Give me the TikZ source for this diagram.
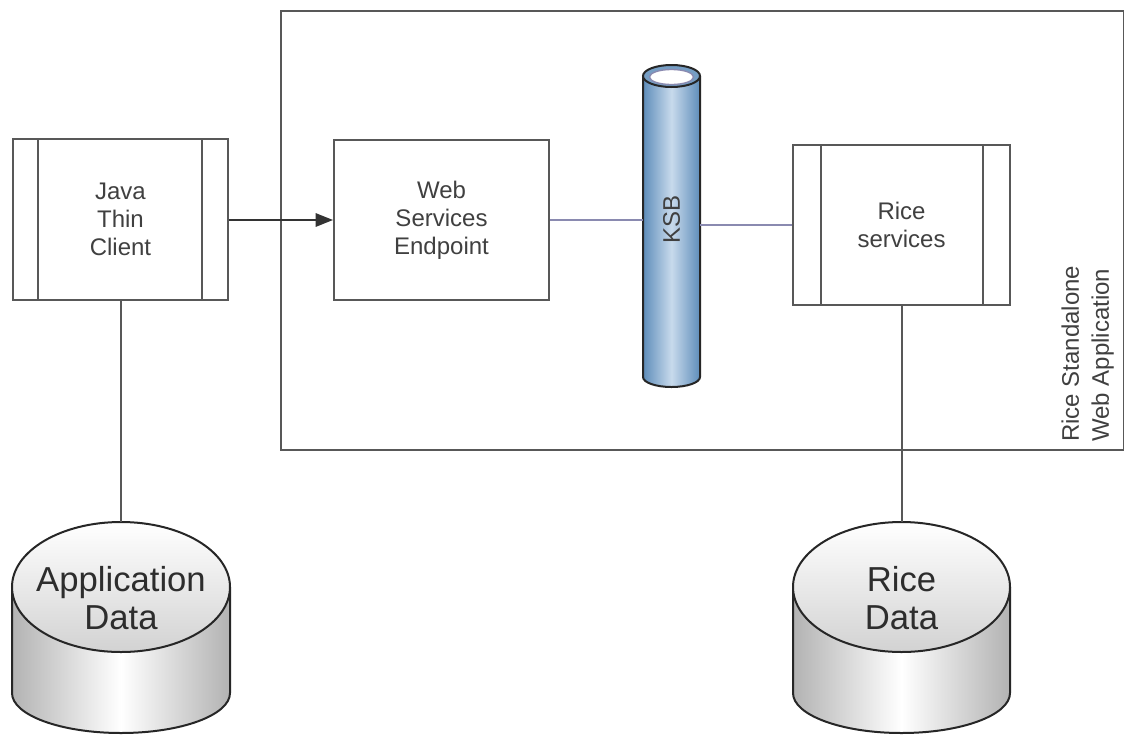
\documentclass[tikz,border=0pt]{standalone}
\usepackage{fontspec}
\setmainfont{Liberation Sans}
\usetikzlibrary{arrows.meta}
\definecolor{txt}{HTML}{404040}
\definecolor{ln}{HTML}{585858}
\definecolor{bus}{HTML}{8A8AB0}
\definecolor{ksbdark}{HTML}{5E8DBA}
\definecolor{ksblight}{HTML}{C8DAEC}
\tikzset{
  box/.style={draw=ln, line width=1.5pt, inner sep=0pt, align=center,
    font=\fontsize{18}{21}\selectfont, text=txt},
  wire/.style={draw=ln, line width=1.5pt},
  buswire/.style={draw=bus, line width=1.5pt},
  dbtext/.style={align=center, font=\fontsize{26}{28.5}\selectfont, text=txt!70!black, inner sep=0pt},
  dbline/.style={draw=black!85, line width=1.5pt},
}
\begin{document}
\begin{tikzpicture}[x=0.75pt,y=-0.75pt]
\useasboundingbox (0,0) rectangle (1124,736);

% container
\node[draw=ln, line width=1.5pt, inner sep=0pt, minimum width=843*0.75pt, minimum height=439*0.75pt] (container) at (702.5,230) {};
\node[rotate=90, anchor=south west, align=left, inner sep=0pt,
      font=\fontsize{18}{22.5}\selectfont, text=txt] (applabel) at (1114,442) {Rice Standalone\\Web Application};

% boxes
\node[box, minimum width=215*0.75pt, minimum height=161*0.75pt] (java) at (120.5,219.5) {Java\\Thin\\Client};
\draw[wire] ([xshift=19.5pt]java.north west) -- ([xshift=19.5pt]java.south west);
\draw[wire] ([xshift=-20.25pt]java.north east) -- ([xshift=-20.25pt]java.south east);

\node[box, minimum width=215*0.75pt, minimum height=160*0.75pt] (web) at (441.5,220) {Web\\Services\\Endpoint};

\node[box, minimum width=217*0.75pt, minimum height=160*0.75pt] (rice) at (901.5,225) {Rice\\services};
\draw[wire] ([xshift=21.75pt]rice.north west) -- ([xshift=21.75pt]rice.south west);
\draw[wire] ([xshift=-21pt]rice.north east) -- ([xshift=-21pt]rice.south east);

% KSB cylinder
\node[inner sep=0pt, minimum width=57*0.75pt, minimum height=322*0.75pt] (ksb) at (671.5,226) {};
\shade[left color=ksbdark, right color=ksbdark, middle color=ksblight]
  (643,76) -- (643,377) arc[start angle=180, end angle=0, x radius=28.5, y radius=10] -- (700,76) -- cycle;
\draw[dbline] (643,76) -- (643,377) arc[start angle=180, end angle=0, x radius=28.5, y radius=10] -- (700,76);
\draw[dbline, fill=ksbdark!85] (671.5,76) ellipse[x radius=28.5, y radius=11];
\draw[draw=bus, line width=1pt, fill=white] (671.5,77) ellipse[x radius=22, y radius=7.5];
\node[rotate=90, inner sep=0pt, font=\fontsize{18}{21}\selectfont, text=txt] (ksblabel) at (671.5,219) {KSB};

% connectors
\draw[wire, black!80, -{Triangle[length=13pt, width=10pt]}] (java.east |- web.west) -- (web.west);
\draw[buswire] (web.east) -- (web.east -| ksb.west);
\draw[buswire] (rice.west) -- (rice.west -| ksb.east);

% Application Data cylinder
\shade[left color=gray!60, right color=gray!60, middle color=white]
  (12,587) -- (12,693) arc[start angle=180, end angle=0, x radius=109, y radius=40] -- (230,587) -- cycle;
\draw[dbline] (12,587) -- (12,693) arc[start angle=180, end angle=0, x radius=109, y radius=40] -- (230,587);
\shade[top color=white, bottom color=gray!35] (121,587) ellipse[x radius=109, y radius=65];
\draw[dbline] (121,587) ellipse[x radius=109, y radius=65];
\coordinate (appdbtop) at (121,522);
\node[dbtext] (appdb) at (121,598) {Application\\Data};

% Rice Data cylinder
\shade[left color=gray!60, right color=gray!60, middle color=white]
  (793,587) -- (793,693) arc[start angle=180, end angle=0, x radius=108.5, y radius=40] -- (1010,587) -- cycle;
\draw[dbline] (793,587) -- (793,693) arc[start angle=180, end angle=0, x radius=108.5, y radius=40] -- (1010,587);
\shade[top color=white, bottom color=gray!35] (901.5,587) ellipse[x radius=108.5, y radius=65];
\draw[dbline] (901.5,587) ellipse[x radius=108.5, y radius=65];
\coordinate (ricedbtop) at (901.5,522);
\node[dbtext] (ricedb) at (901.5,598) {Rice\\Data};

\draw[wire] (java.south) -- (java.south |- appdbtop);
\draw[wire] (rice.south) -- (rice.south |- ricedbtop);
\end{tikzpicture}
\end{document}
